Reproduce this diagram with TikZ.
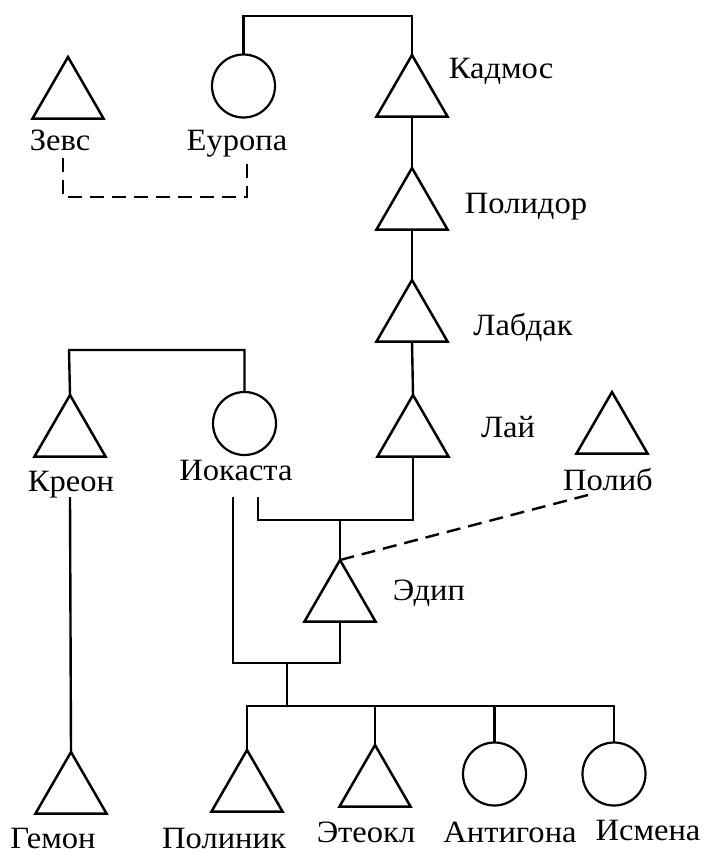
\documentclass[tikz,border=0pt]{standalone}
\usepackage{fontspec}
\setmainfont[FakeStretch=1.05]{Liberation Serif}
\usetikzlibrary{shapes.geometric}
\tikzset{
  male/.style={draw, regular polygon, regular polygon sides=3, minimum size=82pt, inner sep=0pt, outer sep=0pt, line width=2.5pt},
  female/.style={draw, circle, minimum size=63pt, inner sep=0pt, outer sep=0pt, line width=2.2pt},
  lbl/.style={anchor=base, inner sep=0pt, font=\fontsize{31}{36}\selectfont},
  link/.style={line width=2.4pt},
  dlink/.style={line width=2.4pt, dash pattern=on 14pt off 8pt}
}
\begin{document}
\begin{tikzpicture}[x=1pt,y=-1pt]
\useasboundingbox (0,0) rectangle (718,854);
% persons
\node[male] (zevs) at (68,98) {};
\node[female] (europa) at (243.5,86) {};
\node[male] (kadmos) at (412,96) {};
\node[male] (polidor) at (412,209) {};
\node[male] (labdak) at (412,321) {};
\node[male] (lai) at (413,436) {};
\node[male] (polib) at (612,433) {};
\node[male] (kreon) at (70,436) {};
\node[female] (iokasta) at (244.5,423.5) {};
\node[male] (edip) at (340,601) {};
\node[male] (gemon) at (71,793) {};
\node[male] (polinik) at (247,791) {};
\node[male] (eteokl) at (375,786) {};
\node[female] (antigona) at (494.5,774) {};
\node[female] (ismena) at (614,774) {};
% labels
\node[lbl] (lzevs) at (60,150) {Зевс};
\node[lbl] (leuropa) at (237,150) {Еуропа};
\node[lbl] (lkadmos) at (501,78) {Кадмос};
\node[lbl] (lpolidor) at (526,213) {Полидор};
\node[lbl] (llabdak) at (523,335) {Лабдак};
\node[lbl] (llai) at (508,437) {Лай};
\node[lbl] (lpolib) at (608,490) {Полиб};
\node[lbl] (lkreon) at (71,491) {Креон};
\node[lbl] (liokasta) at (236,480) {Иокаста};
\node[lbl] (ledip) at (429,600) {Эдип};
\node[lbl] (lgemon) at (53,848) {Гемон};
\node[lbl] (lpolinik) at (224,848) {Полиник};
\node[lbl] (leteokl) at (366,842) {Этеокл};
\node[lbl] (lantigona) at (510,842) {Антигона};
\node[lbl] (lismena) at (648,840) {Исмена};
% helper coordinates
\coordinate (kadtop) at (412,16);
\coordinate (zd) at (63,158);
\coordinate (ed) at (247,157);
\coordinate (kib) at (69,350);
\coordinate (iok1) at (258,497);
\coordinate (m1) at (413,520);
\coordinate (m1c) at (340,520);
\coordinate (pd) at (588,495);
\coordinate (kr) at (70,497);
\coordinate (iok2) at (233,497);
\coordinate (m2) at (340,663);
\coordinate (m2c) at (287,663);
\coordinate (sib) at (287,706);
% connectors
\draw[link] (europa.north) |- (kadtop) -- (kadmos.north);
\draw[dlink] (zd) -- ++(0,39) -| (ed);
\draw[link] (kadmos.south) -- (polidor.north);
\draw[link] (polidor.south) -- (labdak.north);
\draw[link] (labdak.south) -- (lai.north);
\draw[link] (kreon.north) -- (kib) -| (iokasta.north);
\draw[link] (iok1) |- (m1) -- (lai.south);
\draw[link] (m1c) -- (edip.north);
\draw[dlink] (pd) -- (edip.north);
\draw[link] (kr) -- (gemon.north);
\draw[link] (iok2) |- (m2) -- (edip.south);
\draw[link] (m2c) -- (sib);
\draw[link] (polinik.north) |- (sib) -| (ismena.north);
\draw[link] (eteokl.north) -- (eteokl.north |- sib);
\draw[link] (antigona.north) -- (antigona.north |- sib);
\end{tikzpicture}
\end{document}
